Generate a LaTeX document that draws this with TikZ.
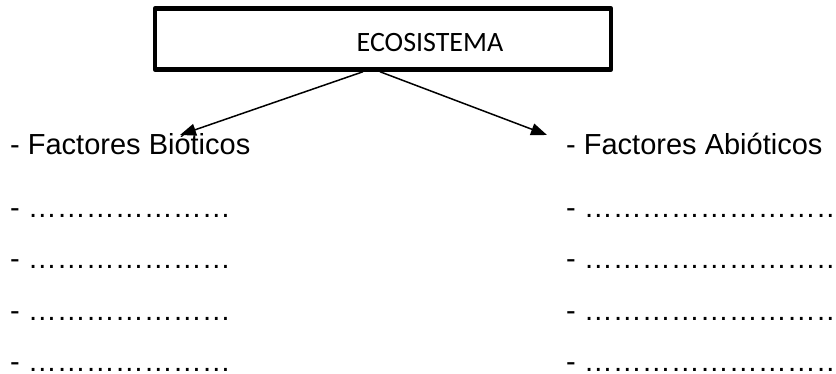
\documentclass[tikz,border=0pt]{standalone}
\usepackage{fontspec}
\setmainfont{Liberation Sans}
\newfontfamily\calibri{Carlito}
\usetikzlibrary{arrows.meta}

\begin{document}
\begin{tikzpicture}[x=1pt,y=-1pt,
	item/.style={anchor=base west,inner sep=0pt,font=\fontsize{29}{34}\selectfont},
	flecha/.style={line width=1.5pt,-{Triangle[length=16pt,width=12pt]}}]
\useasboundingbox (0,0) rectangle (836,374);
%% Caja principal
\node[draw,line width=4.5pt,line join=round,minimum width=456pt,minimum height=61pt,
	inner sep=0pt] (eco) at (383,39) {};
\node[font=\calibri\fontsize{28}{34}\selectfont,anchor=base] (ecotxt) at (430,52) {ECOSISTEMA};
%% Flechas
\coordinate (bioTip) at (180,135);
\coordinate (abioTip) at (547,135);
\draw[flecha] ([xshift=-20pt]eco.south) -- (bioTip);
\draw[flecha] ([xshift=-3pt]eco.south) -- (abioTip);
%% Columnas
\node[item] (bio) at (10,155) {- Factores Bióticos};
\node[item] (abio) at (566,155) {- Factores Abióticos};
\foreach \i in {1,...,4}
{
	\node[item] (bio\i) at (10,167+51*\i) {- …………………};
	\node[item] (abio\i) at (566,167+51*\i) {- ……………………………};
}
\end{tikzpicture}
\end{document}
